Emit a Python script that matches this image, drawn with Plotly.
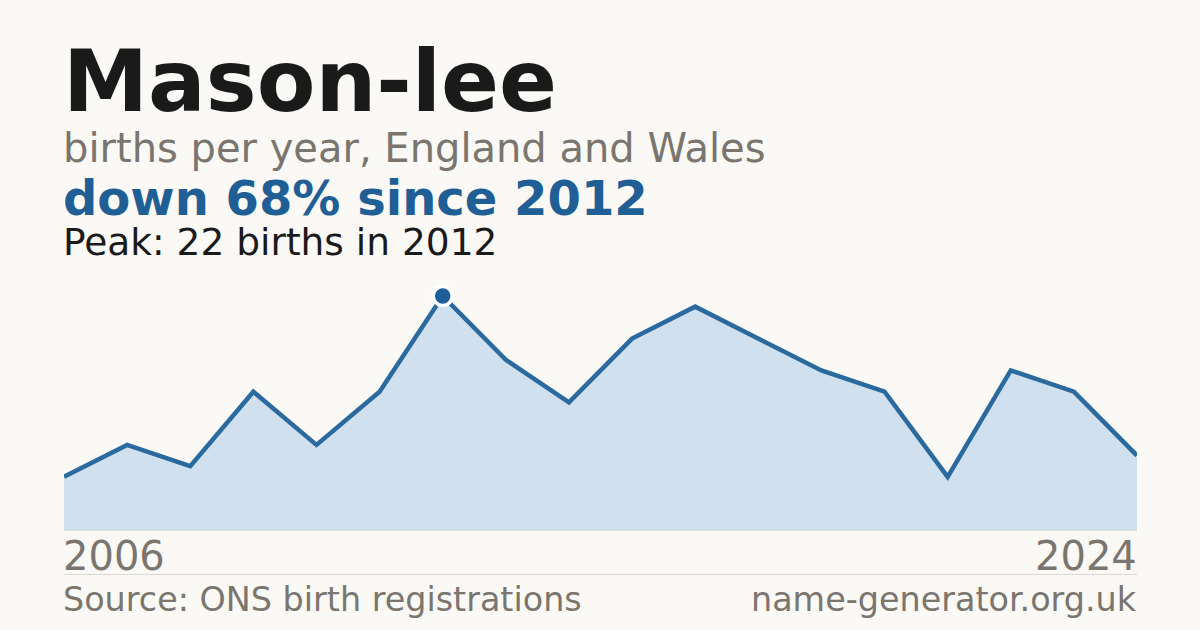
import plotly.graph_objects as go

# births per year (one year absent from the series, so 18 points)
years = [2006, 2007, 2008, 2009, 2010, 2011, 2012, 2013, 2014, 2015,
         2016, 2017, 2018, 2019, 2021, 2022, 2023, 2024]
births = [5, 8, 6, 13, 8, 13, 22, 16, 12, 18, 21, 18, 15, 13, 5, 15, 13, 7]

name = "Mason-lee"
subtitle = "births per year, England and Wales"
source = "Source: ONS birth registrations"
site = "name-generator.org.uk"

BG = "#faf9f5"
BLUE = "#1f5f96"
GREY = "#7a756e"
FONT = "DejaVu Sans"

W, H = 1200, 630
L, R = 64, 1137


def py(px_from_top):
    return 1 - px_from_top / H


peak = max(births)
peak_i = births.index(peak)
change = round((births[-1] - peak) / peak * 100)
xs = list(range(len(years)))

fig = go.Figure()
fig.add_trace(go.Scatter(
    x=xs, y=births, mode="lines",
    line=dict(color="#2b6a9e", width=4.5),
    fill="tozeroy", fillcolor="#d0e0ef",
    hoverinfo="skip", cliponaxis=False,
))
fig.add_trace(go.Scatter(
    x=[peak_i], y=[peak], mode="markers",
    marker=dict(color=BLUE, size=19, line=dict(color="white", width=3.5)),
    hoverinfo="skip", cliponaxis=False,
))

fig.update_layout(
    width=W, height=H,
    margin=dict(l=0, r=0, t=0, b=0),
    paper_bgcolor=BG, plot_bgcolor=BG,
    showlegend=False,
    font=dict(family=FONT),
    xaxis=dict(domain=[L / W, R / W], range=[0, len(years) - 1],
               visible=False, fixedrange=True),
    yaxis=dict(domain=[py(530), py(296)], range=[0, peak],
               visible=False, fixedrange=True),
)

texts = [
    (name, 85.5, "#1a1a1a", True, 82, "left"),
    (subtitle, 40, GREY, False, 147.5, "left"),
    (f"down {abs(change)}% since {years[peak_i]}", 48, BLUE, True, 198, "left"),
    (f"Peak: {peak} births in {years[peak_i]}", 37.5, "#1a1a1a", False, 242, "left"),
    (str(years[0]), 40, GREY, False, 556, "left"),
    (str(years[-1]), 40, GREY, False, 556, "right"),
    (source, 33.4, GREY, False, 599, "left"),
    (site, 33.4, GREY, False, 599, "right"),
]
for t, size, col, bold, ypx, side in texts:
    # annotation boxes pad the text by ~3px, so nudge them outwards
    xpx = L - 3 if side == "left" else R + 2
    fig.add_annotation(
        text=f"<b>{t}</b>" if bold else t,
        xref="paper", yref="paper",
        x=xpx / W, y=py(ypx),
        xanchor=side, yanchor="middle", showarrow=False,
        font=dict(size=size, color=col, family=FONT),
    )

# baseline and separator rules
for ypx, col in [(530.5, "#e4e1db"), (574.5, "#dcd9d3")]:
    fig.add_shape(type="line", xref="paper", yref="paper",
                  x0=L / W, x1=R / W, y0=py(ypx), y1=py(ypx),
                  line=dict(color=col, width=1))

fig.write_html("out.html", config={"displayModeBar": False},
               post_script="document.body.style.margin='0';")
